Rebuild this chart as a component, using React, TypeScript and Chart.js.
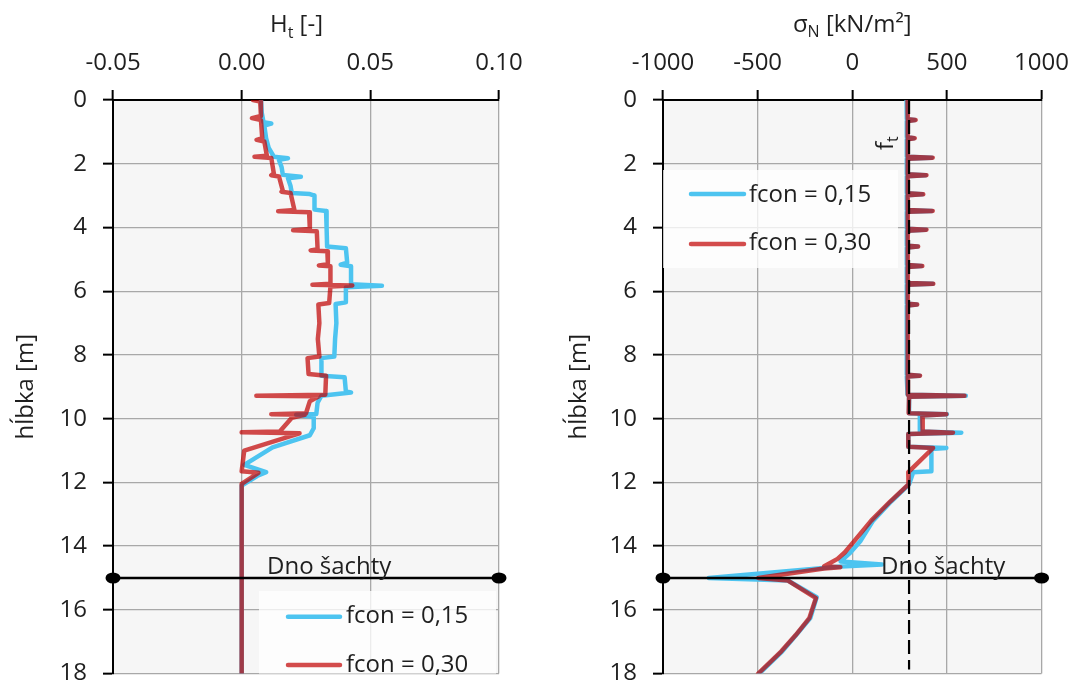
import React, { useEffect, useRef } from "react";
import { Chart, registerables } from "chart.js";

Chart.register(...registerables);

const FONT = '"Open Sans", "Noto Sans", sans-serif';
const TEXT = "#1f1f1f";
const BLUE = "rgb(77,196,240)";
const RED = "rgba(192,0,0,0.7)";
const GRID = "#a8a8a8";
const PLOT_BG = "#f6f6f6";
const CANVAS_H = 704;

// ---- axis ticks / labels ----
const htTicks = [-0.05, 0, 0.05, 0.1];
const htTickLabels = ["-0.05", "0.00", "0.05", "0.10"];
const snTicks = [-1000, -500, 0, 500, 1000];
const snTickLabels = ["-1000", "-500", "0", "500", "1000"];
const depthTicks = [0, 2, 4, 6, 8, 10, 12, 14, 16, 18];
const depthTickLabels = ["0", "2", "4", "6", "8", "10", "12", "14", "16", "18"];
const seriesLabels = ["fcon = 0,15", "fcon = 0,30"];
const shaftBottomLabel = "Dno šachty";
const shaftBottomDepth = 15;
const tensileStrength = 300; // f_t line [kN/m2]

// ---- H_t [-] vs depth [m] : [value, depth] ----
const htFcon015: [number, number][] = [
  [0.0075, 0], [0.0078, 0.4], [0.0085, 0.7], [0.0115, 0.74], [0.0088, 0.8],
  [0.0095, 1.2], [0.0105, 1.5], [0.0125, 1.78], [0.018, 1.83], [0.0145, 1.88],
  [0.0155, 2.1], [0.016, 2.35], [0.023, 2.41], [0.018, 2.46], [0.019, 2.7],
  [0.0195, 2.92], [0.0265, 2.95], [0.0283, 3.0], [0.0283, 3.44], [0.0328, 3.48],
  [0.033, 4.0], [0.0332, 4.6], [0.0405, 4.65], [0.041, 5.1], [0.0385, 5.17],
  [0.0425, 5.22], [0.0425, 5.78], [0.0545, 5.83], [0.0405, 5.88], [0.0405, 6.35],
  [0.0365, 6.4], [0.0368, 7.0], [0.0363, 7.5], [0.036, 8.05], [0.031, 8.1],
  [0.031, 8.65], [0.04, 8.7], [0.0405, 9.15], [0.0425, 9.18], [0.031, 9.28],
  [0.0295, 9.5], [0.029, 9.85], [0.0212, 9.88], [0.028, 9.95], [0.028, 10.3],
  [0.0265, 10.52], [0.012, 10.9], [0.001, 11.45], [0.0095, 11.68], [0.006, 11.8],
  [0, 12.1], [0, 18],
];
const htFcon030: [number, number][] = [
  [0.0044, 0], [0.0072, 0.05], [0.0075, 0.5], [0.004, 0.57], [0.0075, 0.63],
  [0.008, 1.2], [0.0058, 1.25], [0.0088, 1.3], [0.0098, 1.75], [0.005, 1.78],
  [0.0115, 1.82], [0.0125, 2.3], [0.0115, 2.36], [0.0145, 2.4], [0.016, 2.85],
  [0.0155, 2.88], [0.019, 2.92], [0.0205, 3.45], [0.0142, 3.49], [0.0262, 3.52],
  [0.0265, 4.05], [0.02, 4.09], [0.0292, 4.12], [0.0295, 4.68], [0.0268, 4.72],
  [0.0333, 4.75], [0.0335, 5.15], [0.03, 5.19], [0.0345, 5.22], [0.0345, 5.77],
  [0.0275, 5.8], [0.043, 5.82], [0.0345, 5.85], [0.034, 6.37], [0.0298, 6.42],
  [0.0302, 7.0], [0.0296, 7.5], [0.0302, 8.05], [0.0256, 8.1], [0.026, 8.6],
  [0.0328, 8.65], [0.0325, 9.25], [0.0057, 9.28], [0.03, 9.3], [0.0265, 9.45],
  [0.025, 9.83], [0.0115, 9.86], [0.0245, 9.88], [0.0195, 9.97], [0.0148, 10.4],
  [0, 10.43], [0.0225, 10.46], [0.019, 10.55], [0.001, 11.0], [0, 11.65],
  [0.0065, 11.7], [0, 12.05], [0, 18],
];

// ---- sigma_N [kN/m2] vs depth [m] : [value, depth] ----
const snFcon015: [number, number][] = [
  [287, 0], [288, 0.6], [330, 0.63], [288, 0.66], [288, 1.17], [325, 1.2], [288, 1.23],
  [288, 1.78], [420, 1.81], [288, 1.84], [288, 2.33], [388, 2.36], [288, 2.39],
  [288, 2.93], [370, 2.96], [288, 2.99], [288, 3.45], [420, 3.48], [288, 3.51],
  [288, 4.04], [388, 4.07], [288, 4.1], [288, 4.57], [345, 4.6], [288, 4.63],
  [288, 5.18], [365, 5.21], [288, 5.24], [288, 5.74], [425, 5.77], [288, 5.8],
  [288, 6.39], [340, 6.42], [288, 6.45], [288, 8.62], [355, 8.65], [288, 8.68],
  [292, 9.25], [600, 9.28], [300, 9.31], [300, 9.83], [500, 9.86], [357, 9.9],
  [357, 10.4], [576, 10.44], [296, 10.48], [296, 10.88], [497, 10.92], [418, 10.95],
  [418, 11.65], [322, 11.68], [300, 12.06], [205, 12.6], [110, 13.2], [42, 13.85],
  [-10, 14.2], [-61, 14.48], [157, 14.58], [-60, 14.64], [-758, 15.0], [-340, 15.08],
  [-188, 15.6], [-222, 16.26], [-298, 16.8], [-370, 17.3], [-492, 18],
];
const snFcon030: [number, number][] = [
  [292, 0], [293, 0.6], [335, 0.63], [293, 0.66], [293, 1.17], [330, 1.2], [293, 1.23],
  [293, 1.78], [425, 1.81], [293, 1.84], [293, 2.33], [392, 2.36], [293, 2.39],
  [293, 2.93], [375, 2.96], [293, 2.99], [293, 3.45], [425, 3.48], [293, 3.51],
  [293, 4.04], [392, 4.07], [293, 4.1], [293, 4.57], [348, 4.6], [293, 4.63],
  [293, 5.18], [370, 5.21], [293, 5.24], [293, 5.74], [428, 5.77], [293, 5.8],
  [293, 6.39], [343, 6.42], [293, 6.45], [293, 8.62], [358, 8.65], [293, 8.68],
  [294, 9.25], [593, 9.28], [300, 9.31], [298, 9.83], [497, 9.86], [370, 9.9],
  [372, 10.4], [532, 10.44], [296, 10.48], [296, 10.88], [427, 10.92], [310, 11.6],
  [296, 11.68], [297, 12.06], [200, 12.6], [100, 13.2], [9, 13.85], [-40, 14.2],
  [-78, 14.4], [-148, 14.63], [-63, 14.66], [-150, 14.7], [-497, 15.0], [-340, 15.08],
  [-192, 15.63], [-227, 16.26], [-300, 16.8], [-375, 17.3], [-497, 18],
];

type Kind = "ht" | "sn";

function drawSubText(
  ctx: CanvasRenderingContext2D,
  parts: { t: string; size: number; dy: number }[],
  x: number,
  y: number,
  center: boolean
) {
  let total = 0;
  for (const p of parts) {
    ctx.font = `${p.size}px ${FONT}`;
    total += ctx.measureText(p.t).width;
  }
  let cx = center ? x - total / 2 : x;
  for (const p of parts) {
    ctx.font = `${p.size}px ${FONT}`;
    ctx.fillText(p.t, cx, y + p.dy);
    cx += ctx.measureText(p.t).width;
  }
}

function drawLegend(
  ctx: CanvasRenderingContext2D,
  box: { x: number; y: number; w: number; h: number },
  lineX1: number,
  lineX2: number,
  textX: number,
  lineYs: number[],
  baseYs: number[]
) {
  ctx.save();
  ctx.fillStyle = "rgba(255,255,255,0.78)";
  ctx.fillRect(box.x, box.y, box.w, box.h);
  const cols = [BLUE, RED];
  ctx.lineCap = "round";
  ctx.lineWidth = 4.5;
  for (let i = 0; i < 2; i++) {
    ctx.strokeStyle = cols[i];
    ctx.beginPath();
    ctx.moveTo(lineX1, lineYs[i]);
    ctx.lineTo(lineX2, lineYs[i]);
    ctx.stroke();
    ctx.fillStyle = TEXT;
    ctx.font = `24px ${FONT}`;
    ctx.textAlign = "left";
    ctx.textBaseline = "alphabetic";
    ctx.fillText(seriesLabels[i], textX, baseYs[i]);
  }
  ctx.restore();
}

function makeOverlay(kind: Kind) {
  return {
    id: "overlay_" + kind,
    beforeDraw(chart: any) {
      const { ctx, chartArea: a } = chart;
      ctx.save();
      ctx.fillStyle = PLOT_BG;
      ctx.fillRect(a.left, a.top, a.right - a.left, a.bottom - a.top);
      ctx.restore();
    },
    afterDatasetsDraw(chart: any) {
      const { ctx, chartArea: a, scales } = chart;
      const yb = scales.y.getPixelForValue(shaftBottomDepth);
      ctx.save();
      if (kind === "sn") {
        const xf = scales.x.getPixelForValue(tensileStrength);
        ctx.strokeStyle = "#000";
        ctx.lineWidth = 2.2;
        ctx.setLineDash([14, 6]);
        ctx.beginPath();
        ctx.moveTo(xf, a.top);
        ctx.lineTo(xf, a.bottom - 4);
        ctx.stroke();
        ctx.setLineDash([]);
      }
      // shaft bottom line
      ctx.strokeStyle = "#000";
      ctx.lineWidth = 2.5;
      ctx.beginPath();
      ctx.moveTo(a.left, yb);
      ctx.lineTo(a.right, yb);
      ctx.stroke();
      ctx.fillStyle = "#000";
      for (const x of [a.left, a.right]) {
        ctx.beginPath();
        ctx.ellipse(x, yb, 7.5, 5.5, 0, 0, Math.PI * 2);
        ctx.fill();
      }
      ctx.fillStyle = TEXT;
      ctx.font = `24px ${FONT}`;
      ctx.textAlign = "left";
      ctx.textBaseline = "alphabetic";
      ctx.fillText(shaftBottomLabel, a.left + (kind === "ht" ? 154 : 218), yb - 4);

      if (kind === "ht") {
        drawLegend(ctx, { x: a.left + 146, y: 591, w: 237, h: a.bottom - 591 }, a.left + 175, a.left + 227, a.left + 233, [616.7, 665], [623.3, 671.7]);
      } else {
        drawLegend(ctx, { x: a.left, y: 170, w: 235, h: 98 }, a.left + 28, a.left + 81, a.left + 86, [194, 244], [201.7, 250]);
        // f_t label
        ctx.save();
        ctx.fillStyle = TEXT;
        ctx.translate(353, 150);
        ctx.rotate(-Math.PI / 2);
        ctx.textAlign = "left";
        ctx.textBaseline = "alphabetic";
        drawSubText(ctx, [{ t: "f", size: 24, dy: 0 }, { t: "t", size: 16, dy: 5 }], 0, 0, false);
        ctx.restore();
      }
      ctx.restore();
    },
    afterDraw(chart: any) {
      const { ctx, chartArea: a } = chart;
      ctx.save();
      ctx.fillStyle = TEXT;
      ctx.textAlign = "left";
      ctx.textBaseline = "alphabetic";
      if (kind === "ht") {
        drawSubText(ctx, [
          { t: "H", size: 24, dy: 0 },
          { t: "t", size: 16, dy: 6 },
          { t: " [-]", size: 24, dy: 0 },
        ], 296.5, 32, true);
      } else {
        drawSubText(ctx, [
          { t: "σ", size: 24, dy: 0 },
          { t: "N", size: 16, dy: 5 },
          { t: " [kN/m²]", size: 24, dy: 0 },
        ], (a.left + a.right) / 2, 32, true);
      }
      ctx.save();
      ctx.translate(kind === "ht" ? 33 : 46, (a.top + a.bottom) / 2);
      ctx.rotate(-Math.PI / 2);
      ctx.textAlign = "center";
      ctx.font = `24px ${FONT}`;
      ctx.fillText("hĺbka [m]", 0, 0);
      ctx.restore();
      ctx.restore();
    },
  };
}

function buildChart(canvas: HTMLCanvasElement, kind: Kind) {
  const s015 = kind === "ht" ? htFcon015 : snFcon015;
  const s030 = kind === "ht" ? htFcon030 : snFcon030;
  const xTicks = kind === "ht" ? htTicks : snTicks;
  const xLabels = kind === "ht" ? htTickLabels : snTickLabels;
  const yWidth = kind === "ht" ? 113 : 123;
  const padRight = kind === "ht" ? 41 : 35;
  const ds = (data: [number, number][], color: string, label: string, order: number) => ({
    label,
    data: data.map(([x, y]) => ({ x, y })),
    showLine: true,
    borderColor: color,
    backgroundColor: color,
    borderWidth: 4.5,
    pointRadius: 0,
    pointHoverRadius: 0,
    tension: 0,
    fill: false,
    borderJoinStyle: "round" as const,
    borderCapStyle: "round" as const,
    order,
  });
  return new Chart(canvas, {
    type: "scatter",
    data: {
      datasets: [
        ds(s015, BLUE, seriesLabels[0], 2),
        ds(s030, RED, seriesLabels[1], 1),
      ],
    },
    options: {
      animation: false,
      responsive: false,
      maintainAspectRatio: false,
      events: [],
      layout: { padding: { left: 0, top: 0, right: padRight, bottom: 24 } },
      plugins: {
        legend: { display: false },
        tooltip: { enabled: false },
        title: { display: false },
      },
      scales: {
        x: {
          type: "linear",
          position: "top",
          min: xTicks[0],
          max: xTicks[xTicks.length - 1],
          afterBuildTicks: (s: any) => {
            s.ticks = xTicks.map((v) => ({ value: v }));
          },
          afterFit: (s: any) => {
            s.height = 100;
          },
          ticks: {
            autoSkip: false,
            maxRotation: 0,
            padding: 12,
            color: TEXT,
            font: { family: FONT, size: 24 },
            callback: (_v: any, i: number) => xLabels[i],
          },
          grid: { color: GRID, lineWidth: 1.3, tickColor: "#000", tickLength: 10, tickWidth: 2 },
          border: { color: "#000", width: 2 },
        },
        y: {
          type: "linear",
          position: "left",
          reverse: true,
          min: 0,
          max: 18,
          afterBuildTicks: (s: any) => {
            s.ticks = depthTicks.map((v) => ({ value: v }));
          },
          afterFit: (s: any) => {
            s.width = yWidth;
          },
          ticks: {
            autoSkip: false,
            padding: 16,
            color: TEXT,
            font: { family: FONT, size: 24 },
            callback: (_v: any, i: number) => depthTickLabels[i],
          },
          grid: { color: GRID, lineWidth: 1.3, tickColor: "#000", tickLength: 10, tickWidth: 2 },
          border: { color: "#000", width: 2 },
        },
      },
    } as any,
    plugins: [makeOverlay(kind)],
  });
}

export default function App() {
  const leftRef = useRef<HTMLCanvasElement>(null);
  const rightRef = useRef<HTMLCanvasElement>(null);
  useEffect(() => {
    const c1 = buildChart(leftRef.current!, "ht");
    const c2 = buildChart(rightRef.current!, "sn");
    return () => {
      c1.destroy();
      c2.destroy();
    };
  }, []);
  return (
    <div
      style={{
        position: "fixed",
        left: 0,
        top: 0,
        width: 1081,
        height: 683,
        overflow: "hidden",
        background: "#fff",
      }}
    >
      <canvas
        ref={leftRef}
        width={540}
        height={CANVAS_H}
        style={{ position: "absolute", left: 0, top: 0, width: 540, height: CANVAS_H }}
      />
      <canvas
        ref={rightRef}
        width={541}
        height={CANVAS_H}
        style={{ position: "absolute", left: 540, top: 0, width: 541, height: CANVAS_H }}
      />
    </div>
  );
}
